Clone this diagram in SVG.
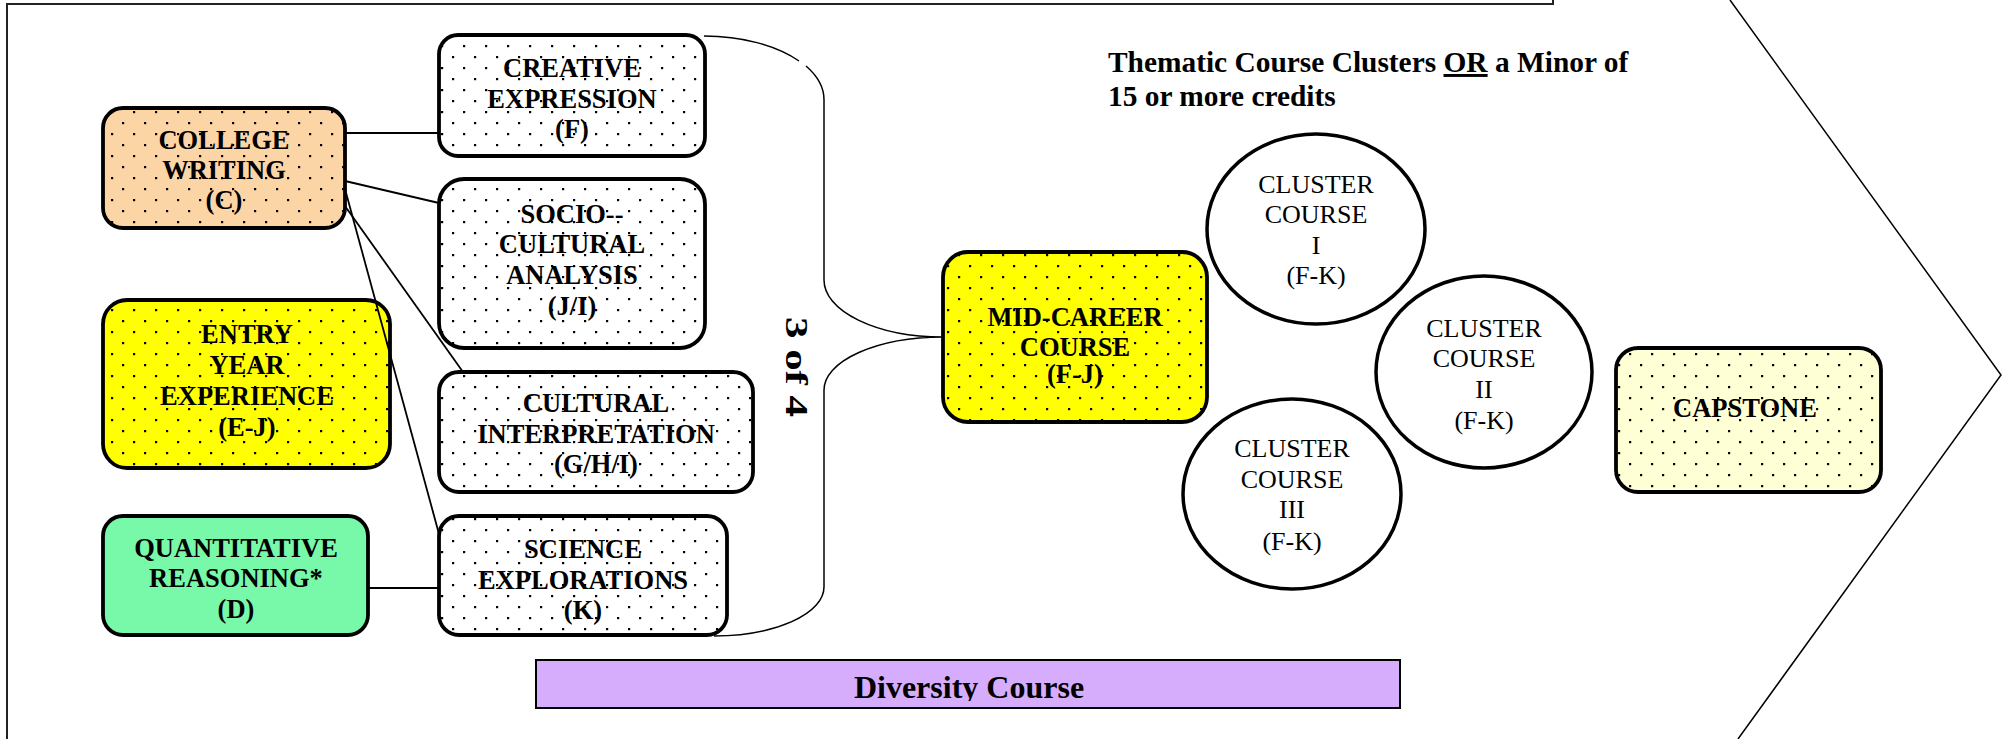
<svg xmlns="http://www.w3.org/2000/svg" width="2011" height="739" viewBox="0 0 2011 739">
<style>
.bx{stroke:#000;stroke-width:3.8}
.dt{fill:url(#dots);stroke:#000;stroke-width:3.8}
.el{fill:#fff;stroke:#000;stroke-width:3.5}
.b{font-family:"Liberation Serif","Times New Roman",serif;font-weight:bold;font-size:26.5px;text-anchor:middle;fill:#000}
.r{font-family:"Liberation Serif","Times New Roman",serif;font-size:26px;text-anchor:middle;fill:#000}
.conn{stroke:#000;stroke-width:1.8;fill:none}
.thin{stroke:#000;stroke-width:1.5;fill:none}
</style>
<defs>
<pattern id="dots" width="22" height="22" patternUnits="userSpaceOnUse">
<rect x="1" y="1" width="2.2" height="2.2" fill="#000"/>
<rect x="12" y="12" width="2.2" height="2.2" fill="#000"/>
</pattern>
<clipPath id="divclip"><rect x="536" y="660" width="864" height="41"/></clipPath>
</defs>
<rect width="2011" height="739" fill="#fff"/>
<g id="frame">
<path d="M7,739 L7,4 L1553,4 L1553,0" fill="none" stroke="#222" stroke-width="2"/>
<path d="M1730,0 L2001,375 L1738,739" class="thin"/>
</g>
<g id="title">
<text x="1108" y="72" font-family="Liberation Serif, Times New Roman, serif" font-weight="bold" font-size="29.4">Thematic Course Clusters <tspan style="text-decoration:underline">OR</tspan> a Minor of</text>
<text x="1108" y="106" font-family="Liberation Serif, Times New Roman, serif" font-weight="bold" font-size="29.4">15 or more credits</text>
</g>
<g id="college-writing">
<rect x="103" y="108" width="242" height="120" rx="20" fill="#FCD5A7"/>
<rect x="103" y="108" width="242" height="120" rx="20" class="dt"/>
<text class="b" x="224" y="149">COLLEGE</text>
<text class="b" x="224" y="179">WRITING</text>
<text class="b" x="224" y="209">(C)</text>
</g>
<g id="creative-expression">
<rect x="439" y="35" width="266" height="121" rx="19" fill="#fff"/>
<rect x="439" y="35" width="266" height="121" rx="19" class="dt"/>
<text class="b" x="572" y="77">CREATIVE</text>
<text class="b" x="572" y="108">EXPRESSION</text>
<text class="b" x="572" y="138">(F)</text>
</g>
<g id="socio-cultural">
<rect x="439" y="179" width="266" height="169" rx="25" fill="#fff"/>
<rect x="439" y="179" width="266" height="169" rx="25" class="dt"/>
<text class="b" x="572" y="223">SOCIO--</text>
<text class="b" x="572" y="253">CULTURAL</text>
<text class="b" x="572" y="284">ANALYSIS</text>
<text class="b" x="572" y="315">(J/I)</text>
</g>
<g id="cultural-interpretation">
<rect x="439" y="372" width="314" height="120" rx="20" fill="#fff"/>
<rect x="439" y="372" width="314" height="120" rx="20" class="dt"/>
<text class="b" x="596" y="412">CULTURAL</text>
<text class="b" x="596" y="443">INTERPRETATION</text>
<text class="b" x="596" y="473">(G/H/I)</text>
</g>
<g id="science-explorations">
<rect x="439" y="516" width="288" height="119" rx="20" fill="#fff"/>
<rect x="439" y="516" width="288" height="119" rx="20" class="dt"/>
<text class="b" x="583" y="558">SCIENCE</text>
<text class="b" x="583" y="589">EXPLORATIONS</text>
<text class="b" x="583" y="619">(K)</text>
</g>
<g id="entry-year">
<rect x="103" y="300" width="287" height="168" rx="24" fill="#FFFF00"/>
<rect x="103" y="300" width="287" height="168" rx="24" class="dt"/>
<text class="b" x="247" y="343">ENTRY</text>
<text class="b" x="247" y="374">YEAR</text>
<text class="b" x="247" y="405">EXPERIENCE</text>
<text class="b" x="247" y="436">(E-J)</text>
</g>
<g id="quantitative-reasoning">
<rect x="103" y="516" width="265" height="119" rx="20" fill="#77F9A9" class="bx"/>
<text class="b" x="236" y="557">QUANTITATIVE</text>
<text class="b" x="236" y="587">REASONING*</text>
<text class="b" x="236" y="618">(D)</text>
</g>
<g id="mid-career">
<rect x="943" y="252" width="264" height="170" rx="25" fill="#FFFF00"/>
<rect x="943" y="252" width="264" height="170" rx="25" class="dt"/>
<text class="b" x="1075" y="326">MID-CAREER</text>
<text class="b" x="1075" y="356">COURSE</text>
<text class="b" x="1075" y="383">(F-J)</text>
</g>
<g id="cluster-1">
<ellipse cx="1316" cy="229" rx="109" ry="95" class="el"/>
<text class="r" x="1316" y="193">CLUSTER</text>
<text class="r" x="1316" y="223">COURSE</text>
<text class="r" x="1316" y="254">I</text>
<text class="r" x="1316" y="284">(F-K)</text>
</g>
<g id="cluster-2">
<ellipse cx="1484" cy="372" rx="108" ry="96" class="el"/>
<text class="r" x="1484" y="337">CLUSTER</text>
<text class="r" x="1484" y="367">COURSE</text>
<text class="r" x="1484" y="398">II</text>
<text class="r" x="1484" y="429">(F-K)</text>
</g>
<g id="cluster-3">
<ellipse cx="1292" cy="494" rx="109" ry="95" class="el"/>
<text class="r" x="1292" y="457">CLUSTER</text>
<text class="r" x="1292" y="488">COURSE</text>
<text class="r" x="1292" y="518">III</text>
<text class="r" x="1292" y="550">(F-K)</text>
</g>
<g id="capstone">
<rect x="1616" y="348" width="265" height="144" rx="22" fill="#FFFFD5"/>
<rect x="1616" y="348" width="265" height="144" rx="22" class="dt"/>
<text class="b" x="1745" y="417">CAPSTONE</text>
</g>
<g id="diversity-course">
<rect x="536" y="660" width="864" height="48" fill="#D6ACFD" stroke="#000" stroke-width="2"/>
<text clip-path="url(#divclip)" x="969" y="698" font-family="Liberation Serif, Times New Roman, serif" font-weight="bold" font-size="32" text-anchor="middle">Diversity Course</text>
</g>
<g id="three-of-four">
<text transform="translate(786,367) rotate(90)" x="0" y="0" font-family="Liberation Serif, Times New Roman, serif" font-weight="bold" font-size="32" text-anchor="middle" textLength="100" lengthAdjust="spacingAndGlyphs">3 of 4</text>
</g>
<g id="connectors">
<path class="conn" d="M345,133 L439,133"/>
<path class="conn" d="M345,181 L439,203"/>
<path class="conn" d="M345,206 L463,372"/>
<path class="conn" d="M345,189 L439,534"/>
<path class="conn" d="M368,588 L439,588"/>
<path class="thin" d="M704,36 A120,64 0 0 1 799,61 M806,66 A120,64 0 0 1 824,100 L824,280 A119,57 0 0 0 943,337 A119,53 0 0 0 824,390 L824,587 A110,49 0 0 1 714,636"/>
</g>
</svg>
